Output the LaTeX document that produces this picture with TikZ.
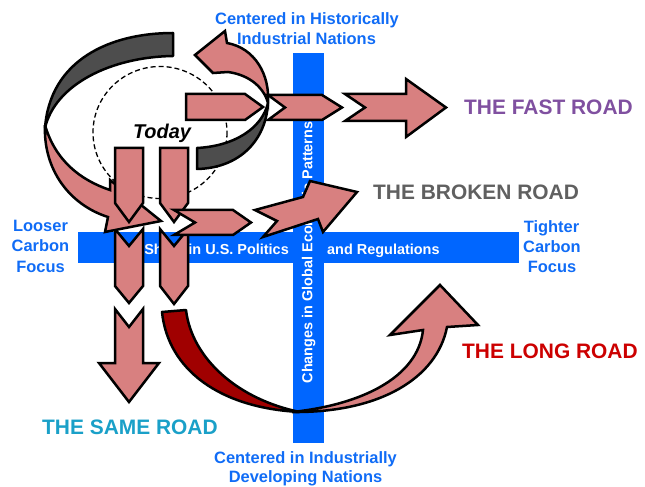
\documentclass[tikz,border=0pt]{standalone}
\usepackage{fontspec}
\setmainfont{Liberation Sans}
\definecolor{barblue}{RGB}{0,102,255}
\definecolor{labelblue}{RGB}{16,108,246}
\definecolor{pinkfill}{RGB}{216,128,128}
\definecolor{bandgray}{RGB}{77,77,77}
\definecolor{banddarkred}{RGB}{160,0,0}
\definecolor{fastpurple}{RGB}{128,80,160}
\definecolor{brokengray}{RGB}{96,96,96}
\definecolor{longred}{RGB}{204,0,0}
\definecolor{sameteal}{RGB}{26,160,200}
\begin{document}
\begin{tikzpicture}[x=1bp,y=-1bp,
  arrowshape/.style={fill=pinkfill,draw=black,line width=2.5bp,line join=miter,miter limit=6},
  band/.style={draw=black,line width=2.5bp,line join=round},
  lbl/.style={text=labelblue,font=\fontsize{16.5}{20}\selectfont\bfseries,inner sep=0,anchor=base},
  road/.style={font=\fontsize{21}{25}\selectfont\bfseries,inner sep=0,anchor=base west},
  bartext/.style={text=white,font=\fontsize{14.5}{17}\selectfont\bfseries,inner sep=0}]
\useasboundingbox (0,0) rectangle (645,487);
% axes
\fill[barblue] (78,232) rectangle (519,263);
\node[bartext,anchor=base east] (hl) at (289,255) {Shifts in U.S. Politics};
\node[bartext,anchor=base west] (hr) at (327,255) {and Regulations};
\fill[barblue] (293,53) rectangle (324,443);
\node[bartext,rotate=90] (vt) at (308.7,252.5) {Changes in Global Economic Patterns};
% today
\draw[line width=1.3bp,dash pattern=on 5bp off 3bp] (160,132.5) circle [x radius=67, y radius=66];
\node[font=\fontsize{20}{24}\selectfont\bfseries\itshape,inner sep=0,anchor=base] (today) at (162,139) {Today};
% loop back parts
\filldraw[band,fill=bandgray] (173,33) .. controls (110,33) and (50,60) .. (45,128) .. controls (55,85) and (110,57) .. (173,56) -- cycle;
\filldraw[band,fill=bandgray] (197,148) .. controls (235,146) and (262,128) .. (268,103) .. controls (266,140) and (240,168) .. (197,169) -- cycle;
\filldraw[arrowshape] (268,103) .. controls (270,75) and (255,48) .. (227,43) -- (225,31) -- (195,55) -- (213,73) -- (228,72) .. controls (250,75) and (264,88) .. (268,103) -- cycle;
% fast road
\filldraw[arrowshape] (186,94) -- (245,94) -- (263,107) -- (245,120) -- (186,120) -- cycle;
\filldraw[arrowshape] (268,95) -- (322,95) -- (342,107.5) -- (322,120) -- (268,120) -- (285,107.5) -- cycle;
\filldraw[arrowshape] (345,94) -- (406,94) -- (406,79) -- (446,107.5) -- (406,137) -- (406,121) -- (345,121) -- (365,107.5) -- cycle;
% down arrows (lower parts)
\filldraw[arrowshape] (115,229) -- (129,246) -- (143,229) -- (143,286) -- (129,303) -- (115,286) -- cycle;
\filldraw[arrowshape] (160,229) -- (174,246) -- (188,229) -- (188,286) -- (174,304) -- (160,286) -- cycle;
% left loop front part
\filldraw[arrowshape] (45,125) .. controls (43,170) and (70,205) .. (108,217) -- (105,232) -- (161,221) -- (110,180) -- (110,190) .. controls (80,180) and (55,160) .. (45,125) -- cycle;
% down arrows (upper parts)
\filldraw[arrowshape] (115,148) -- (143,148) -- (143,203) -- (129,222) -- (115,203) -- cycle;
\filldraw[arrowshape] (160,148) -- (188,148) -- (188,203) -- (174,222) -- (160,203) -- cycle;
% broken road
\filldraw[arrowshape] (174,210) -- (233,210) -- (251,222.5) -- (233,235) -- (174,235) -- (195,222.5) -- cycle;
\filldraw[arrowshape] (255,210) -- (303,197) -- (310,181) -- (357,192) -- (323,232) -- (318,219) -- (263,237) -- (277,221) -- cycle;
% same road
\filldraw[arrowshape] (115,309) -- (129,327) -- (143,309) -- (143,363) -- (159,363) -- (129,402) -- (99,363) -- (115,363) -- cycle;
% long road
\filldraw[band,fill=banddarkred] (162,312) .. controls (168,370) and (220,408) .. (300,412) .. controls (240,400) and (192,360) .. (186,310) -- cycle;
\filldraw[arrowshape] (292,412) .. controls (380,413) and (437,378) .. (447,327) -- (478,325) -- (440,285) -- (390,335) -- (423,330) .. controls (418,378) and (360,405) .. (292,412) -- cycle;
% labels
\node[lbl] (t1) at (307,25) {Centered in Historically};
\node[lbl] (t2) at (306.5,45) {Industrial Nations};
\node[lbl] (b1) at (305.5,463) {Centered in Industrially};
\node[lbl] (b2) at (305.5,482) {Developing Nations};
\node[lbl] (l1) at (40.5,232) {Looser};
\node[lbl] (l2) at (40.5,252) {Carbon};
\node[lbl] (l3) at (40.5,272) {Focus};
\node[lbl] (r1) at (551.5,233) {Tighter};
\node[lbl] (r2) at (552,253) {Carbon};
\node[lbl] (r3) at (552,272) {Focus};
\node[road,text=fastpurple] (fast) at (464,115) {THE FAST ROAD};
\node[road,text=brokengray] (broken) at (373,200) {THE BROKEN ROAD};
\node[road,text=longred] (long) at (462,358) {THE LONG ROAD};
\node[road,text=sameteal] (same) at (42,434) {THE SAME ROAD};
\end{tikzpicture}
\end{document}
